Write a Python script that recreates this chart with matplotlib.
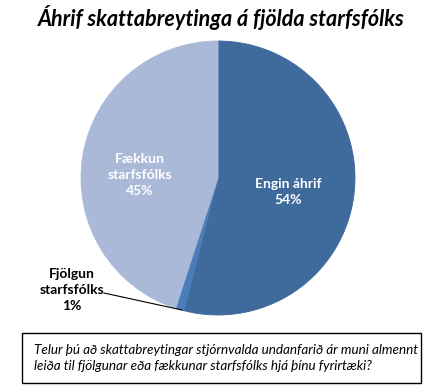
import matplotlib.pyplot as plt
from matplotlib.patches import Rectangle

plt.rcParams['font.family'] = ['Lato', 'DejaVu Sans']

# Gögn
flokkar = ['Engin áhrif', 'Fjölgun\nstarfsfólks', 'Fækkun\nstarfsfólks']
hlutfall = [54, 1, 45]
litir = ['#3F6A9C', '#4A7EBB', '#A9B9D7']
titill = 'Áhrif skattabreytinga á fjölda starfsfólks'
spurning = ('Telur þú að skattabreytingar stjórnvalda undanfarið ár muni almennt\n'
            'leiða til fjölgunar eða fækkunar starfsfólks hjá þínu fyrirtæki?')

W, H = 442, 391
fig = plt.figure(figsize=(W / 100, H / 100), dpi=100)

# Kakan: miðja (218,178), radíus 137 px
cx, cy, r = 218, 178, 137
ax = fig.add_axes([(cx - r) / W, 1 - (cy + r) / H, 2 * r / W, 2 * r / H])
wedges, _ = ax.pie(hlutfall, colors=litir, startangle=90, counterclock=False,
                   wedgeprops=dict(linewidth=0.6))
for w, c in zip(wedges, litir):
    w.set_edgecolor(c)
ax.set_aspect('equal')
ax.set_xlim(-1, 1)
ax.set_ylim(-1, 1)
ax.axis('off')

def px(x, y):
    return ((x - cx) / r, (cy - y) / r)

ax.text(*px(288, 192), f'{flokkar[0]}\n{hlutfall[0]}%', ha='center', va='center',
        color='white', fontsize=10, fontweight='bold', linespacing=1.4)
ax.text(*px(140, 175), f'{flokkar[2]}\n{hlutfall[2]}%', ha='center', va='center',
        color='white', fontsize=10, fontweight='bold', linespacing=1.4)
ax.text(*px(72, 290), f'{flokkar[1]}\n{hlutfall[1]}%', ha='center', va='center',
        color='black', fontsize=10, fontweight='bold', linespacing=1.4)
x0, y0 = px(104, 293)
x1, y1 = px(182, 310)
ax.plot([x0, x1], [y0, y1], color='black', linewidth=0.8, clip_on=False)

fig.text(0.5, 1 - 18 / H, titill, ha='center', va='center', fontsize=15.5,
         fontweight='bold', fontstyle='italic')

# Kassi með spurningu
fig.patches.append(Rectangle((22 / W, 1 - 383 / H), (421 - 22) / W, 50 / H,
                             transform=fig.transFigure, fill=False,
                             edgecolor='black', linewidth=1))
fig.text(34 / W, 1 - 358 / H, spurning, ha='left', va='center', fontsize=9.7,
         fontstyle='italic', linespacing=1.5)

fig.savefig('out.png', dpi=100, facecolor='white')
